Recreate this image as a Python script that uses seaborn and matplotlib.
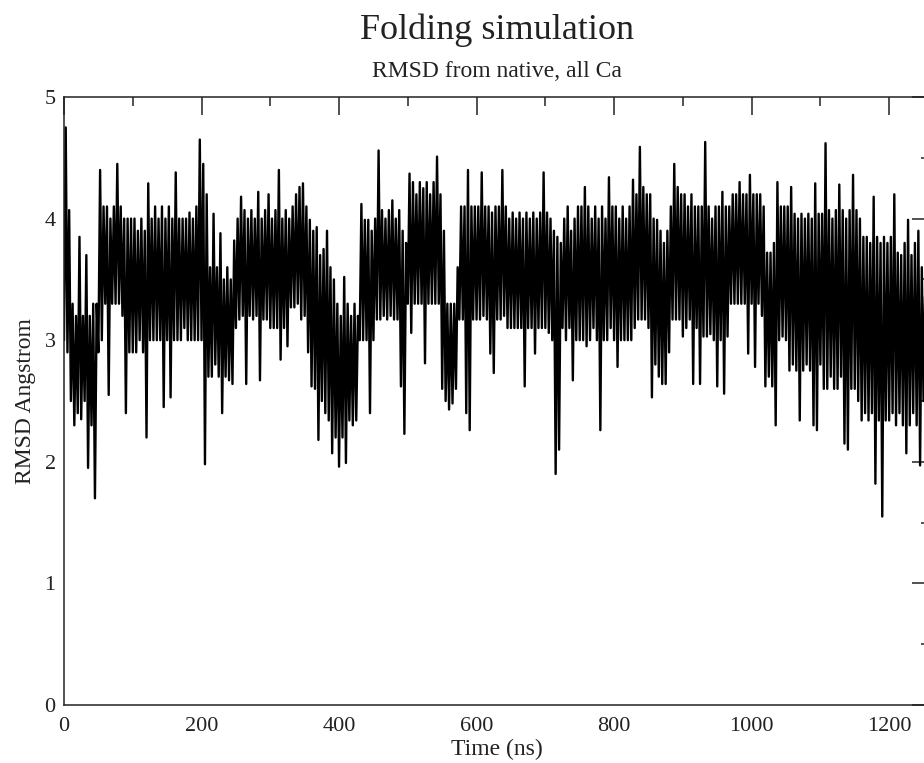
import numpy as np
import pandas as pd
import matplotlib
matplotlib.use("Agg")
import matplotlib.pyplot as plt
import seaborn as sns
from matplotlib.ticker import MultipleLocator

# ---------------- text ----------------
title = "Folding simulation"
subtitle = "RMSD from native, all Ca"
x_label = "Time (ns)"
y_label = "RMSD Angstrom"
x_ticks = [0, 200, 400, 600, 800, 1000, 1200]
y_ticks = [0, 1, 2, 3, 4, 5]

# ---------------- data ----------------
# per 5 ns sample bin: highest and lowest RMSD reached within the bin
sample_step_ns = 5
rmsd_top = [
    4.75, 4.07, 3.3, 3.2, 3.85, 3.2, 3.7, 3.2, 3.3, 3.3,
    4.4, 4.1, 4.1, 4.0, 4.1, 4.45, 4.1, 4.0, 4.0, 4.0,
    4.0, 3.9, 4.0, 3.9, 4.29, 4.0, 4.1, 4.0, 4.1, 4.0,
    4.1, 4.0, 4.38, 4.0, 4.0, 4.0, 4.05, 4.0, 4.1, 4.65,
    4.45, 4.2, 3.6, 4.04, 3.6, 3.88, 3.5, 3.6, 3.5, 3.82,
    4.0, 4.18, 4.07, 4.0, 4.07, 4.0, 4.22, 4.0, 4.07, 4.2,
    4.0, 4.07, 4.4, 4.0, 4.07, 4.0, 4.1, 4.2, 4.26, 4.29,
    4.1, 3.99, 3.9, 3.93, 3.7, 3.75, 3.9, 3.6, 3.5, 3.3,
    3.2, 3.52, 3.3, 3.2, 3.3, 3.2, 4.12, 3.99, 3.99, 3.9,
    4.0, 4.56, 4.07, 4.0, 4.07, 4.15, 4.0, 4.07, 3.9, 3.8,
    4.37, 4.3, 4.2, 4.3, 4.25, 4.3, 4.2, 4.3, 4.51, 4.2,
    3.9, 3.3, 3.3, 3.3, 3.6, 4.1, 4.1, 4.4, 4.1, 4.1,
    4.1, 4.38, 4.1, 4.1, 4.05, 4.1, 4.1, 4.4, 4.1, 4.0,
    4.05, 4.0, 4.05, 4.0, 4.05, 4.0, 4.05, 4.0, 4.05, 4.38,
    4.05, 4.0, 3.9, 3.85, 3.8, 4.0, 4.1, 3.9, 4.0, 4.1,
    4.1, 4.26, 4.1, 4.0, 4.1, 4.0, 4.1, 4.0, 4.34, 4.1,
    4.1, 4.0, 4.1, 4.0, 4.1, 4.32, 4.2, 4.59, 4.26, 4.2,
    4.2, 4.0, 3.99, 3.9, 3.8, 3.9, 4.1, 4.45, 4.26, 4.2,
    4.2, 4.1, 4.2, 4.1, 4.1, 4.1, 4.63, 4.1, 4.0, 4.1,
    4.1, 4.22, 4.1, 4.1, 4.2, 4.2, 4.3, 4.2, 4.2, 4.36,
    4.2, 4.2, 4.2, 4.1, 3.72, 3.72, 3.8, 4.3, 4.1, 4.1,
    4.1, 4.26, 4.04, 4.0, 4.04, 4.0, 4.04, 4.0, 4.29, 4.04,
    4.04, 4.62, 4.07, 4.0, 4.07, 4.28, 4.07, 4.0, 4.07, 4.36,
    4.07, 4.0, 3.85, 3.85, 3.8, 4.18, 3.85, 3.8, 3.85, 3.8,
    3.85, 4.2, 3.72, 3.7, 3.8, 3.99, 3.7, 3.8, 3.9, 3.6, 3.5, 3.6,
]
rmsd_bottom = [
    3.0, 2.9, 2.5, 2.3, 2.4, 2.35, 2.5, 1.95, 2.3, 1.7,
    2.9, 3.0, 3.3, 2.55, 3.3, 3.3, 3.3, 3.2, 2.4, 2.9,
    2.9, 2.9, 3.0, 2.9, 2.2, 3.0, 3.0, 3.0, 3.0, 2.45,
    3.0, 2.53, 3.0, 3.0, 3.0, 3.1, 3.0, 3.0, 3.0, 3.0,
    3.0, 1.98, 2.7, 2.7, 2.8, 2.7, 2.4, 2.7, 2.67, 2.64,
    3.1, 3.17, 3.2, 2.64, 3.2, 3.17, 3.2, 2.67, 3.17, 3.17,
    3.1, 3.1, 3.1, 2.84, 3.1, 2.95, 3.27, 3.27, 3.3, 3.17,
    3.2, 2.9, 2.62, 2.6, 2.18, 2.5, 2.4, 2.34, 2.07, 2.2,
    1.96, 2.2, 1.99, 2.34, 2.3, 2.34, 3.0, 3.0, 3.0, 2.4,
    3.0, 3.17, 3.17, 3.2, 3.17, 3.2, 3.17, 3.17, 2.62, 2.23,
    3.3, 3.06, 3.3, 3.3, 3.3, 2.81, 3.3, 3.3, 3.3, 3.3,
    2.6, 2.5, 2.43, 2.48, 2.6, 3.17, 3.17, 2.4, 2.26, 3.17,
    3.17, 3.17, 3.2, 3.17, 2.89, 2.73, 3.17, 3.17, 3.2, 3.1,
    3.1, 3.1, 3.1, 3.1, 2.62, 3.1, 3.1, 2.89, 3.1, 3.1,
    3.1, 3.06, 3.0, 1.9, 2.1, 3.1, 3.0, 3.1, 2.67, 3.0,
    3.0, 3.0, 2.95, 3.0, 3.1, 3.0, 2.26, 3.0, 3.0, 3.1,
    3.0, 2.78, 3.0, 3.0, 3.0, 3.0, 3.1, 3.17, 3.17, 3.17,
    3.1, 2.53, 2.8, 2.7, 2.64, 2.64, 2.9, 3.17, 3.17, 3.17,
    3.03, 3.1, 3.17, 2.64, 3.1, 2.64, 3.03, 3.03, 3.05, 3.0,
    2.62, 3.0, 2.56, 3.03, 3.3, 3.3, 3.3, 3.3, 3.3, 2.89,
    3.3, 2.78, 3.3, 3.2, 2.62, 2.7, 2.62, 2.3, 3.0, 3.03,
    3.0, 2.75, 2.8, 2.75, 2.34, 2.75, 2.8, 2.75, 2.3, 2.26,
    2.8, 2.6, 2.6, 2.7, 2.6, 2.6, 2.7, 2.15, 2.1, 2.6,
    2.6, 2.5, 2.34, 2.4, 2.34, 2.4, 1.82, 2.34, 1.55, 2.34,
    2.34, 2.4, 2.3, 2.4, 2.3, 2.07, 2.3, 2.4, 2.3, 1.97, 2.5, 2.4,
]

bin_start = np.arange(len(rmsd_top)) * sample_step_ns
time_ns = np.column_stack([bin_start, bin_start + sample_step_ns / 2]).ravel()
rmsd = np.column_stack([rmsd_bottom, rmsd_top]).ravel()
df = pd.DataFrame({"time": time_ns, "rmsd": rmsd})

# ---------------- style ----------------
sns.set_theme(style="white")
plt.rcParams["font.family"] = ["Liberation Serif", "DejaVu Serif"]
plt.rcParams["axes.linewidth"] = 1.1

W, H = 924, 763
fig = plt.figure(figsize=(W / 100, H / 100), dpi=100)
fig.patch.set_facecolor("white")
ax = fig.add_axes([64 / W, (H - 705) / H, 866.4 / W, 608 / H])

sns.lineplot(data=df, x="time", y="rmsd", color="black", linewidth=1.7,
             estimator=None, sort=False, ax=ax)

ax.set_xlim(0, 1260)
ax.set_ylim(0, 5)
ax.set_xticks(x_ticks)
ax.set_xticklabels([str(v) for v in x_ticks])
ax.set_yticks(y_ticks)
ax.set_yticklabels([str(v) for v in y_ticks])
ax.xaxis.set_minor_locator(MultipleLocator(100))
ax.yaxis.set_minor_locator(MultipleLocator(0.5))

for sp in ax.spines.values():
    sp.set_color("#222222")
    sp.set_linewidth(1.1)

ax.tick_params(which="both", direction="in", top=True, right=True,
               color="#222222", width=1.1)
ax.tick_params(which="major", length=13)
ax.tick_params(which="minor", length=6.5)
ax.tick_params(axis="x", which="major", labelsize=16, pad=8.5, labelcolor="#222222")
ax.tick_params(axis="y", which="major", labelsize=16, pad=6, labelcolor="#222222")

ax.set_xlabel(x_label, fontsize=17, color="#222222", labelpad=2)
ax.set_ylabel(y_label, fontsize=17, color="#222222", labelpad=6)

cx = (64 + 930.4) / 2 / W
fig.text(cx, 1 - 39 / H, title, ha="center", va="baseline", fontsize=26, color="#222222")
fig.text(cx, 1 - 77 / H, subtitle, ha="center", va="baseline", fontsize=17, color="#222222")

fig.savefig("out.png", dpi=100, facecolor="white")
